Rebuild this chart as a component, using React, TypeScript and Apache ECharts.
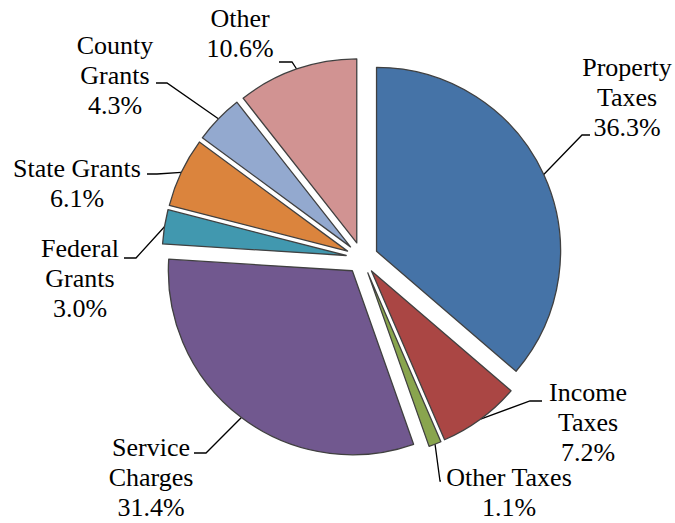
import React, { useEffect, useRef } from 'react';
import * as echarts from 'echarts';

const categories = [
  'Property\nTaxes',
  'Income\nTaxes',
  'Other Taxes',
  'Service\nCharges',
  'Federal\nGrants',
  'State Grants',
  'County\nGrants',
  'Other',
];
const shares = [36.3, 7.2, 1.1, 31.4, 3.0, 6.1, 4.3, 10.6];
const colors = ['#4573A7', '#AA4644', '#89A54E', '#71588F', '#4198AF', '#DB843D', '#93A9CF', '#D19392'];
// label block centres
const labelCenters = [
  [627, 97],
  [588, 422],
  [509, 492],
  [151, 477],
  [80, 278],
  [77, 183],
  [115, 75],
  [240, 33],
];
// where each leader line meets its label, which side, and its last (horizontal) segment
const leaderEnds = [
  [590, 135],
  [542, 401],
  [441, 481],
  [194, 453],
  [124, 258],
  [147, 174],
  [156, 83],
  [279, 62],
];
const leaderSide = ['left', 'left', 'left', 'right', 'right', 'right', 'right', 'right'];
const leaderLen2 = [8, 12, 1, 12, 12, 10, 11, 13];

export default function App() {
  const ref = useRef<HTMLDivElement>(null);
  useEffect(() => {
    if (!ref.current) return;
    const chart = echarts.init(ref.current, undefined, { renderer: 'svg' });
    const center = [362, 258];
    const r = 184;
    const offset = 16;
    const font = "'Liberation Serif', 'Times New Roman', serif";
    const spacer = '\u00a0'.repeat(24);
    chart.setOption({
      animation: false,
      backgroundColor: '#ffffff',
      series: [
        {
          type: 'pie',
          center,
          radius: [0, r],
          startAngle: 90,
          clockwise: true,
          selectedMode: 'multiple',
          selectedOffset: offset,
          avoidLabelOverlap: false,
          silent: true,
          data: categories.map((name, i) => ({
            name,
            value: shares[i],
            selected: true,
            itemStyle: { color: colors[i] },
          })),
          itemStyle: { borderColor: '#404040', borderWidth: 1.3 },
          select: { itemStyle: { borderColor: '#404040', borderWidth: 1.3 } },
          emphasis: { disabled: true },
          label: { show: false },
          labelLine: { show: false },
        },
        {
          // labels
          type: 'pie',
          center,
          radius: [0, r + offset],
          startAngle: 90,
          clockwise: true,
          avoidLabelOverlap: false,
          silent: true,
          data: categories.map((name, i) => ({ name, value: shares[i] })),
          itemStyle: { color: 'rgba(0,0,0,0)', borderWidth: 0 },
          emphasis: { disabled: true },
          label: {
            show: true,
            position: 'outside',
            formatter: (p: any) => `${p.name}\n${Number(p.value).toFixed(1)}%`,
            fontFamily: font,
            fontSize: 26,
            lineHeight: 30,
            color: '#000',
            align: 'center',
          },
          labelLine: { show: false },
          labelLayout: (params: any) => ({
            x: labelCenters[params.dataIndex][0],
            y: labelCenters[params.dataIndex][1],
            align: 'center',
            verticalAlign: 'middle',
          }),
        },
        {
          // leader lines
          type: 'pie',
          center,
          radius: [0, r + offset],
          startAngle: 90,
          clockwise: true,
          avoidLabelOverlap: false,
          silent: true,
          data: categories.map((name, i) => ({
            name,
            value: shares[i],
            labelLine: { length2: leaderLen2[i] },
          })),
          itemStyle: { color: 'rgba(0,0,0,0)', borderWidth: 0 },
          emphasis: { disabled: true },
          label: {
            show: true,
            position: 'outside',
            formatter: () => spacer,
            fontFamily: font,
            fontSize: 12,
            color: 'rgba(0,0,0,0)',
          },
          labelLine: {
            show: true,
            length: 10,
            length2: 12,
            smooth: false,
            lineStyle: { color: '#000', width: 1.3 },
          },
          labelLayout: (params: any) => ({
            x: leaderEnds[params.dataIndex][0],
            y: leaderEnds[params.dataIndex][1],
            align: leaderSide[params.dataIndex],
            verticalAlign: 'middle',
          }),
        },
      ],
    });
    return () => chart.dispose();
  }, []);
  return (
    <div
      ref={ref}
      style={{ position: 'absolute', left: 0, top: 0, width: 675, height: 523 }}
    />
  );
}
